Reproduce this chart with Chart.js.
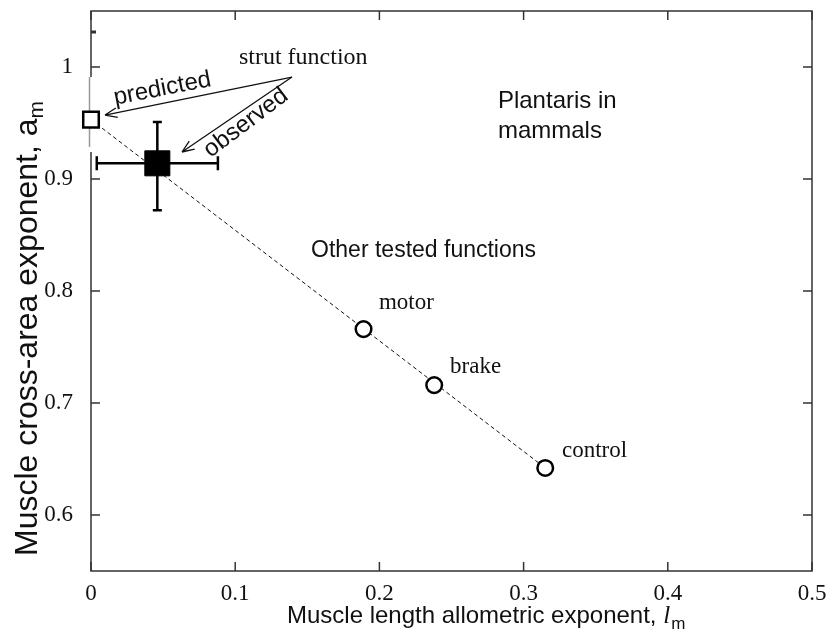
<!DOCTYPE html>
<html>
<head>
<meta charset="utf-8">
<script src="https://cdn.jsdelivr.net/npm/chart.js@4.4.0/dist/chart.umd.min.js"></script>
<style>
html, body { margin: 0; padding: 0; background: #fff; }
#wrap { width: 834px; height: 631px; }
</style>
</head>
<body>
<div id="wrap"><canvas id="chart-plantaris" width="834" height="631"></canvas></div>
<script>
// axis ticks
const xTickValues = [0, 0.1, 0.2, 0.3, 0.4, 0.5];
const xTickLabels = ['0', '0.1', '0.2', '0.3', '0.4', '0.5'];
const yTickValues = [0.6, 0.7, 0.8, 0.9, 1];
const yTickLabels = ['0.6', '0.7', '0.8', '0.9', '1'];

// other tested functions (open circles)
const functionNames = ['motor', 'brake', 'control'];
const functionLm = [0.189, 0.238, 0.315];
const functionAm = [0.766, 0.716, 0.642];

// strut function: predicted and observed (with error bars)
const predictedLm = [0];
const predictedAm = [0.953];
const observedLm = [0.046];
const observedAm = [0.914];
const observedLmRange = [0.004, 0.088];
const observedAmRange = [0.872, 0.951];

// dashed line through the predictions
const lineLm = [0, 0.315];
const lineAm = [0.953, 0.642];

const SERIF = '"Liberation Serif", "Times New Roman", serif';
const SANS = '"Liberation Sans", Arial, sans-serif';

function toPoints(xs, ys) {
    return xs.map((v, i) => ({ x: v, y: ys[i] }));
}

// text notes, placed in data units
const notes = [
    { text: 'strut function', x: 0.1026, y: 1.0027, font: '24px ' + SERIF, rot: 0 },
    { text: 'predicted', x: 0.0495, y: 0.9805, font: '24px ' + SANS, rot: -11, align: 'center', base: 'middle' },
    { text: 'observed', x: 0.1075, y: 0.950, font: '24px ' + SANS, rot: -37, align: 'center', base: 'middle' },
    { text: 'Plantaris in', x: 0.2822, y: 0.9634, font: '24px ' + SANS, rot: 0 },
    { text: 'mammals', x: 0.2822, y: 0.9366, font: '24px ' + SANS, rot: 0 },
    { text: 'Other tested functions', x: 0.1526, y: 0.8304, font: '23px ' + SANS, rot: 0 },
    { text: functionNames[0], x: 0.1997, y: 0.7839, font: '23px ' + SERIF, rot: 0 },
    { text: functionNames[1], x: 0.2490, y: 0.7268, font: '23px ' + SERIF, rot: 0 },
    { text: functionNames[2], x: 0.3266, y: 0.6518, font: '23px ' + SERIF, rot: 0 }
];

// arrows from "strut function" to the two squares
const arrows = [
    { from: [0.1394, 0.991], to: [0.0097, 0.9571] },
    { from: [0.1394, 0.991], to: [0.0631, 0.9241] }
];

const figurePlugin = {
    id: 'figureOverlay',
    beforeDatasetsDraw(chart) {
        const { ctx, chartArea: a, scales: { x, y } } = chart;
        ctx.save();
        ctx.strokeStyle = '#333';
        ctx.lineWidth = 1.5;
        ctx.strokeRect(a.left, a.top, a.right - a.left, a.bottom - a.top);

        // grey stretch of the left border behind the open square
        ctx.fillStyle = '#fff';
        ctx.fillRect(a.left - 2, 77, 4, 75);
        ctx.strokeStyle = '#999';
        ctx.beginPath();
        ctx.moveTo(a.left - 1.5, 77);
        ctx.lineTo(a.left - 1.5, 147);
        ctx.stroke();

        // inward ticks on all four sides
        ctx.strokeStyle = '#333';
        ctx.beginPath();
        xTickValues.forEach(v => {
            const px = x.getPixelForValue(v);
            ctx.moveTo(px, a.bottom); ctx.lineTo(px, a.bottom - 9);
            ctx.moveTo(px, a.top); ctx.lineTo(px, a.top + 9);
        });
        yTickValues.forEach(v => {
            const py = y.getPixelForValue(v);
            ctx.moveTo(a.left, py); ctx.lineTo(a.left + 9, py);
            ctx.moveTo(a.right, py); ctx.lineTo(a.right - 9, py);
        });
        ctx.stroke();
        // stray mark near the top of the left border
        ctx.lineWidth = 3;
        ctx.beginPath();
        ctx.moveTo(a.left, a.top + 21); ctx.lineTo(a.left + 5, a.top + 21);
        ctx.stroke();

        // error bars of the observed value
        const cx = x.getPixelForValue(observedLm[0]);
        const cy = y.getPixelForValue(observedAm[0]);
        const x0 = x.getPixelForValue(observedLmRange[0]);
        const x1 = x.getPixelForValue(observedLmRange[1]);
        const y0 = y.getPixelForValue(observedAmRange[0]);
        const y1 = y.getPixelForValue(observedAmRange[1]);
        ctx.strokeStyle = '#000';
        ctx.lineWidth = 2.5;
        ctx.beginPath();
        ctx.moveTo(x0, cy); ctx.lineTo(x1, cy);
        ctx.moveTo(x0, cy - 7); ctx.lineTo(x0, cy + 7);
        ctx.moveTo(x1, cy - 7); ctx.lineTo(x1, cy + 7);
        ctx.moveTo(cx, y0); ctx.lineTo(cx, y1);
        ctx.moveTo(cx - 4.5, y0); ctx.lineTo(cx + 4.5, y0);
        ctx.moveTo(cx - 4.5, y1); ctx.lineTo(cx + 4.5, y1);
        ctx.stroke();
        ctx.restore();
    },
    afterDraw(chart) {
        const { ctx, scales: { x, y } } = chart;
        ctx.save();
        ctx.fillStyle = '#111';

        notes.forEach(n => {
            ctx.save();
            ctx.translate(x.getPixelForValue(n.x), y.getPixelForValue(n.y));
            ctx.rotate(n.rot * Math.PI / 180);
            ctx.font = n.font;
            ctx.textAlign = n.align || 'left';
            ctx.textBaseline = n.base || 'alphabetic';
            ctx.fillText(n.text, 0, 0);
            ctx.restore();
        });

        // arrows
        ctx.strokeStyle = '#111';
        ctx.lineWidth = 1.3;
        arrows.forEach(ar => {
            const fx = x.getPixelForValue(ar.from[0]), fy = y.getPixelForValue(ar.from[1]);
            const tx = x.getPixelForValue(ar.to[0]), ty = y.getPixelForValue(ar.to[1]);
            const ang = Math.atan2(ty - fy, tx - fx);
            ctx.beginPath();
            ctx.moveTo(fx, fy); ctx.lineTo(tx, ty);
            [0.38, -0.38].forEach(d => {
                ctx.moveTo(tx, ty);
                ctx.lineTo(tx - 13 * Math.cos(ang + d), ty - 13 * Math.sin(ang + d));
            });
            ctx.stroke();
        });

        // x axis title with italic l and subscript m
        ctx.textAlign = 'left';
        ctx.textBaseline = 'alphabetic';
        let tx = 287;
        const xText = 'Muscle length allometric exponent, ';
        ctx.font = '24px ' + SANS;
        ctx.fillText(xText, tx, 623);
        tx += ctx.measureText(xText).width;
        ctx.font = 'italic 25px ' + SERIF;
        ctx.fillText('l', tx, 623);
        tx += ctx.measureText('l').width + 1;
        ctx.font = '17px ' + SANS;
        ctx.fillText('m', tx, 629);

        // y axis title, rotated
        ctx.save();
        ctx.translate(37, 556);
        ctx.rotate(-Math.PI / 2);
        let ty = 0;
        const yText = 'Muscle cross-area exponent, ';
        ctx.font = '32px ' + SANS;
        ctx.fillText(yText, ty, 0);
        ty += ctx.measureText(yText).width;
        ctx.fillText('a', ty, 0);
        ty += ctx.measureText('a').width;
        ctx.font = '21px ' + SANS;
        ctx.fillText('m', ty, 6);
        ctx.restore();

        ctx.restore();
    }
};

const ctx = document.getElementById('chart-plantaris').getContext('2d');
new Chart(ctx, {
    type: 'scatter',
    data: {
        datasets: [
            {
                label: 'observed',
                data: toPoints(observedLm, observedAm),
                pointStyle: 'rect',
                pointRadius: 17.7,
                backgroundColor: '#000',
                borderColor: '#000',
                borderWidth: 1,
                clip: false,
                order: 1
            },
            {
                label: 'predicted',
                data: toPoints(predictedLm, predictedAm),
                pointStyle: 'rect',
                pointRadius: 11,
                backgroundColor: '#fff',
                borderColor: '#000',
                borderWidth: 2.5,
                clip: false,
                order: 1
            },
            {
                label: 'Other tested functions',
                data: toPoints(functionLm, functionAm),
                pointStyle: 'circle',
                pointRadius: 7.8,
                backgroundColor: '#fff',
                borderColor: '#000',
                borderWidth: 2.5,
                clip: false,
                order: 1
            },
            {
                type: 'line',
                label: 'trend',
                data: toPoints(lineLm, lineAm),
                showLine: true,
                borderColor: '#111',
                borderWidth: 1,
                borderDash: [4, 3],
                pointRadius: 0,
                fill: false,
                clip: false,
                order: 5
            }
        ]
    },
    options: {
        responsive: false,
        animation: false,
        events: [],
        layout: { autoPadding: false, padding: { top: 11, right: 22, bottom: 0, left: 0 } },
        plugins: {
            legend: { display: false },
            tooltip: { enabled: false }
        },
        scales: {
            x: {
                type: 'linear',
                min: 0,
                max: 0.5,
                afterBuildTicks: s => { s.ticks = xTickValues.map(v => ({ value: v })); },
                afterFit: s => { s.height = 60; s.paddingLeft = 0; s.paddingRight = 0; },
                grid: { display: false },
                border: { display: false },
                ticks: {
                    padding: 1,
                    maxRotation: 0,
                    color: '#111',
                    font: { family: SERIF, size: 23 },
                    callback: (v, i) => xTickLabels[i]
                }
            },
            y: {
                type: 'linear',
                min: 0.55,
                max: 1.05,
                afterBuildTicks: s => { s.ticks = yTickValues.map(v => ({ value: v })); },
                afterFit: s => { s.width = 91; s.paddingTop = 0; s.paddingBottom = 0; },
                grid: { display: false },
                border: { display: false },
                ticks: {
                    padding: 10,
                    color: '#111',
                    font: { family: SERIF, size: 23 },
                    callback: (v, i) => yTickLabels[i]
                }
            }
        }
    },
    plugins: [figurePlugin]
});
</script>
</body>
</html>
